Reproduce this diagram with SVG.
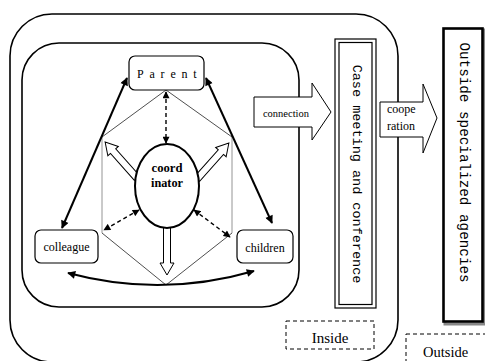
<svg xmlns="http://www.w3.org/2000/svg" width="485" height="361" viewBox="0 0 485 361">
<style>
.frame{fill:none;stroke:#000;stroke-width:1.6}
.node{fill:#fff;stroke:#000;stroke-width:1.2}
.lbl{font-family:"Liberation Serif",serif;fill:#000}
.mono{font-family:"Liberation Mono",monospace;fill:#000}
.solid{fill:none;stroke:#000;stroke-width:2}
.dash{fill:none;stroke:#000;stroke-width:1.4;stroke-dasharray:4 3}
.hex{fill:none;stroke:#222;stroke-width:0.8}
.hexv{fill:none;stroke:#888;stroke-width:0.9}
.hollow{fill:#fff;stroke:#000;stroke-width:1}
.dbox{fill:#fff;stroke:#000;stroke-width:1;stroke-dasharray:4 3}
</style>
<defs>
<marker id="ah" viewBox="0 0 10 10" refX="9" refY="5" markerWidth="10" markerHeight="8" orient="auto-start-reverse" markerUnits="userSpaceOnUse"><path d="M0,0 L10,5 L0,10 z" fill="#000"/></marker>
<marker id="ahs" viewBox="0 0 10 10" refX="9" refY="5" markerWidth="8" markerHeight="7" orient="auto-start-reverse" markerUnits="userSpaceOnUse"><path d="M0,0 L10,5 L0,10 z" fill="#000"/></marker>
<path id="harrow" d="M0,-3.5 H36 V-7 L48,0 L36,7 V3.5 H0 Z"/>
</defs>
<rect width="485" height="361" fill="#fff"/>
<g id="outer-frame"><rect class="frame" x="10" y="14" width="388" height="348" rx="42"/></g>
<g id="inner-frame"><rect class="frame" x="22" y="43" width="277" height="264" rx="37"/></g>
<g id="hexagon">
<path class="hex" d="M102,137 L166,90 L232,137 M232,233 L166,285 L102,233"/>
<path class="hexv" d="M102,137 V233 M232,137 V233"/>
</g>
<g id="connectors">
<path class="solid" d="M62,228 L127,78" marker-start="url(#ah)" marker-end="url(#ah)"/>
<path class="solid" d="M206,78 L272,223" marker-start="url(#ah)" marker-end="url(#ah)"/>
<path class="solid" d="M68,273 Q161,298 254,271" marker-start="url(#ah)" marker-end="url(#ah)"/>
<path class="dash" d="M166,92 L166,143" marker-start="url(#ahs)" marker-end="url(#ahs)"/>
<path class="dash" d="M139,210 L104,230" marker-start="url(#ahs)" marker-end="url(#ahs)"/>
<path class="dash" d="M194,210 L230,237" marker-start="url(#ahs)" marker-end="url(#ahs)"/>
<use href="#harrow" class="hollow" transform="translate(137,178) rotate(-131.6)"/>
<use href="#harrow" class="hollow" transform="translate(197,179) rotate(-48.4)"/>
<use href="#harrow" class="hollow" transform="translate(167,227) rotate(90)"/>
</g>
<g id="coordinator">
<ellipse cx="167" cy="186" rx="32" ry="42" fill="#fff" stroke="#000" stroke-width="2"/>
<text class="lbl" x="167" y="171.5" font-size="13.5" font-weight="bold" text-anchor="middle" textLength="31" lengthAdjust="spacingAndGlyphs">coord</text>
<text class="lbl" x="167" y="187" font-size="13.5" font-weight="bold" text-anchor="middle" textLength="32" lengthAdjust="spacingAndGlyphs">inator</text>
</g>
<g id="parent">
<rect class="node" x="129" y="56" width="75" height="34" rx="6"/>
<text class="lbl" x="137" y="78" font-size="12" letter-spacing="5.8">Parent</text>
</g>
<g id="colleague">
<rect class="node" x="35" y="230" width="63" height="33" rx="6"/>
<text class="lbl" x="66.5" y="251" font-size="12" text-anchor="middle">colleague</text>
</g>
<g id="children">
<rect class="node" x="237" y="230" width="56" height="33" rx="6"/>
<text class="lbl" x="265" y="252" font-size="12" text-anchor="middle">children</text>
</g>
<g id="connection">
<path class="hollow" d="M254,97 H312 V83 L331,112 L312,140 V127 H254 Z"/>
<text class="lbl" x="286" y="117" font-size="10.5" text-anchor="middle">connection</text>
</g>
<g id="case-meeting">
<rect x="335" y="39" width="41" height="269" fill="#fff" stroke="#000" stroke-width="1.2"/>
<rect x="339" y="42.5" width="33" height="262" fill="none" stroke="#000" stroke-width="1.2"/>
<text class="mono" font-size="13.5" text-anchor="middle" transform="translate(352.5,174) rotate(90)">Case meeting and conference</text>
</g>
<g id="cooperation">
<path class="hollow" d="M380,102 H423 V84 L437,118 L423,153 V137 H380 Z"/>
<text class="lbl" x="387" y="113" font-size="12">coope</text>
<text class="lbl" x="387" y="130" font-size="12">ration</text>
</g>
<g id="outside-agencies">
<rect x="445" y="30" width="39" height="294" fill="none" stroke="#888" stroke-width="3"/>
<rect x="443.5" y="28.5" width="39" height="293" fill="#fff" stroke="#000" stroke-width="2.6"/>
<text class="mono" font-size="14.3" text-anchor="middle" transform="translate(459.5,162.5) rotate(90)">Outside specialized agencies</text>
</g>
<g id="inside-label">
<rect class="dbox" x="286" y="321" width="88" height="28"/>
<text class="lbl" x="330" y="343" font-size="15" text-anchor="middle">Inside</text>
</g>
<g id="outside-label">
<rect class="dbox" x="406" y="334" width="90" height="40"/>
<text class="lbl" x="423" y="357" font-size="14.5">Outside</text>
</g>
</svg>
